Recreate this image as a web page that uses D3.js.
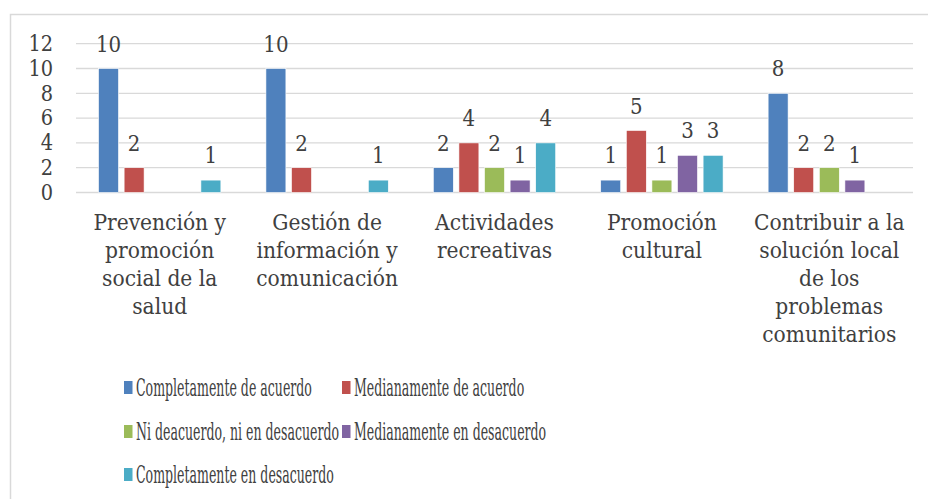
<!DOCTYPE html>
<html>
<head>
<meta charset="utf-8">
<script src="https://cdn.jsdelivr.net/npm/d3@7"></script>
<style>
  body { margin: 0; background: #fff; }
  text { font-family: "DejaVu Serif Condensed", "DejaVu Serif", serif; font-stretch: condensed; fill: #404040; }
</style>
</head>
<body>
<div id="chart"></div>
<script>
// categories, each already split into its display lines
const categories = [
  ["Prevención y", "promoción", "social de la", "salud"],
  ["Gestión de", "información y", "comunicación"],
  ["Actividades", "recreativas"],
  ["Promoción", "cultural"],
  ["Contribuir a la", "solución local", "de los", "problemas", "comunitarios"]
]

const seriesNames = [
  "Completamente de acuerdo",
  "Medianamente de acuerdo",
  "Ni deacuerdo, ni en desacuerdo",
  "Medianamente en desacuerdo",
  "Completamente en desacuerdo"
]

// values per series, in category order (0 = no bar)
const completamenteAcuerdo = [10, 10, 2, 1, 8]
const medianamenteAcuerdo = [2, 2, 4, 5, 2]
const niDeacuerdo = [0, 0, 2, 1, 2]
const medianamenteDesacuerdo = [0, 0, 1, 3, 1]
const completamenteDesacuerdo = [1, 1, 4, 3, 0]

const yTicks = [0, 2, 4, 6, 8, 10, 12]

const colors = ["#4F81BD", "#C0504D", "#9BBB59", "#8064A2", "#4BACC6"]

const width = 928
const height = 499

const series = [completamenteAcuerdo, medianamenteAcuerdo, niDeacuerdo,
                medianamenteDesacuerdo, completamenteDesacuerdo]

const svg = d3.select("#chart")
  .append("svg")
    .attr("width", width)
    .attr("height", height)

// chart frame (right / bottom edges fall outside the picture)
svg.append("rect")
    .attr("x", 10.5)
    .attr("y", 14.5)
    .attr("width", 940)
    .attr("height", 520)
    .attr("fill", "none")
    .attr("stroke", "#d9d9d9")
    .attr("stroke-width", 1.5)

const x0 = d3.scaleBand()
    .domain(d3.range(categories.length))
    .range([76, 913])

const x1 = d3.scaleBand()
    .domain(d3.range(series.length))
    .range([0, x0.bandwidth()])
    .paddingInner(0.22)
    .paddingOuter(0.88)

const y = d3.scaleLinear()
    .domain([0, 12])
    .range([192.5, 43.7])

// gridlines
svg.append("g")
  .selectAll("line")
  .data(yTicks)
  .join("line")
    .attr("x1", 76)
    .attr("x2", 913)
    .attr("y1", d => y(d))
    .attr("y2", d => y(d))
    .attr("stroke", "#d9d9d9")
    .attr("stroke-width", 1.3)

// y axis labels
const yAxis = svg.append("g")
    .attr("transform", "translate(53,0)")
    .call(d3.axisLeft(y).tickValues(yTicks).tickSize(0).tickPadding(0))
yAxis.select(".domain").remove()
yAxis.selectAll("text")
    .attr("font-size", 21.5)
    .attr("fill", "#595959")
    .attr("font-family", null)

// bars
const groups = svg.append("g")
  .selectAll("g")
  .data(categories)
  .join("g")
    .attr("transform", (d, i) => `translate(${x0(i)},0)`)

groups.each(function(cat, ci) {
  const g = d3.select(this)
  const vals = series.map((s, si) => ({si, v: s[ci]})).filter(d => d.v > 0)

  g.selectAll("rect")
    .data(vals)
    .join("rect")
      .attr("x", d => x1(d.si))
      .attr("width", x1.bandwidth())
      .attr("y", d => y(d.v))
      .attr("height", d => y(0) - y(d.v))
      .attr("fill", d => colors[d.si])
      .attr("stroke", "#fff")
      .attr("stroke-width", 0.6)

  g.selectAll("text.val")
    .data(vals)
    .join("text")
      .attr("class", "val")
      .attr("x", d => x1(d.si) + x1.bandwidth() / 2)
      .attr("y", d => y(d.v) - 17)
      .attr("text-anchor", "middle")
      .attr("font-size", 22)
      .text(d => d.v)
})

// category labels
const catLabels = svg.append("g")
  .selectAll("text")
  .data(categories)
  .join("text")
    .attr("x", (d, i) => x0(i) + x0.bandwidth() / 2)
    .attr("y", 230)
    .attr("text-anchor", "middle")
    .attr("font-size", 22.5)
    .attr("fill", "#595959")

catLabels.selectAll("tspan")
  .data(d => d)
  .join("tspan")
    .attr("x", function() { return this.parentNode.getAttribute("x") })
    .attr("dy", (d, i) => i === 0 ? 0 : 28)
    .text(d => d)

// legend
const legendCols = [124, 342]
const legendRows = [388, 432, 475]

const legend = svg.append("g")
  .selectAll("g")
  .data(seriesNames)
  .join("g")
    .attr("transform", (d, i) => `translate(${legendCols[i % 2]},${legendRows[Math.floor(i / 2)]})`)

legend.append("rect")
    .attr("x", 0)
    .attr("y", -7)
    .attr("width", 8.5)
    .attr("height", 13)
    .attr("fill", (d, i) => colors[i])

// legend text is squeezed horizontally in the original
const legendText = legend.append("g")
  .append("text")
    .attr("x", 0)
    .attr("y", 7.5)
    .attr("font-size", 23.5)
    .attr("fill", "#595959")
    .text(d => d)

const natural = legendText.node().getComputedTextLength()
const squeeze = 176 / natural
legend.select("g")
    .attr("transform", `translate(12,0) scale(${squeeze},1)`)
</script>
</body>
</html>
